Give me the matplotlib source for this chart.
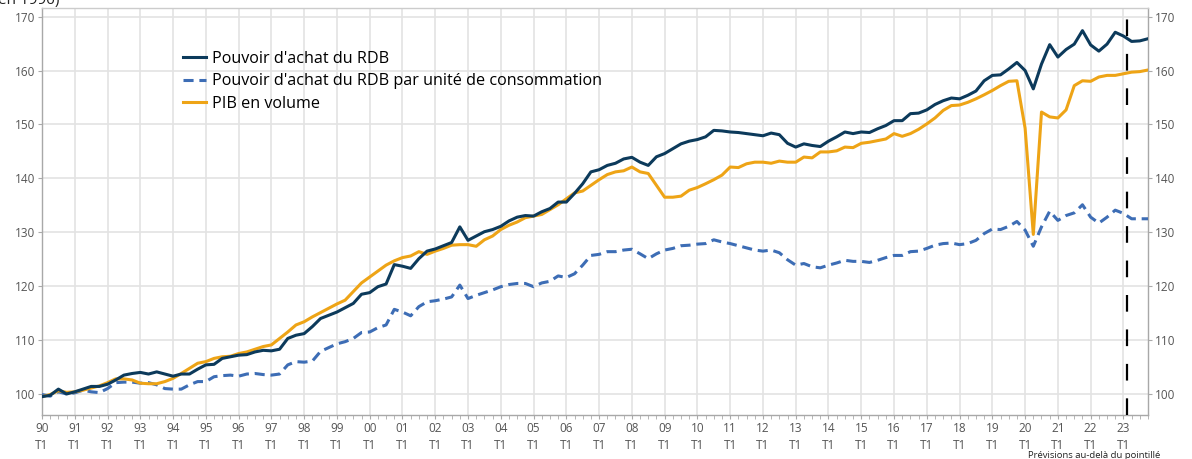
import matplotlib
matplotlib.use("Agg")
import matplotlib.pyplot as plt
import numpy as np

plt.rcParams['font.family'] = ['Open Sans', 'DejaVu Sans']

start_year = 1990
end_year = 2023

rdb = [99.5, 99.75, 100.9, 100.0,
       100.4, 100.9, 101.4, 101.4,
       101.8, 102.6, 103.5, 103.8,
       104.0, 103.7, 104.1, 103.7,
       103.3, 103.7, 103.7, 104.6,
       105.4, 105.5, 106.6, 106.9,
       107.2, 107.3, 107.8, 108.1,
       108.0, 108.3, 110.3, 110.9,
       111.2, 112.5, 114.0, 114.6,
       115.2, 116.0, 116.8, 118.5,
       118.8, 119.9, 120.4, 124.0,
       123.7, 123.3, 125.1, 126.5,
       126.9, 127.5, 128.1, 131.0,
       128.5, 129.3, 130.1, 130.5,
       131.1, 132.1, 132.8, 133.1,
       133.0, 133.8, 134.4, 135.6,
       135.6, 137.2, 139.0, 141.2,
       141.6, 142.4, 142.8, 143.6,
       143.9, 143.0, 142.4, 144.0,
       144.6, 145.5, 146.4, 146.9,
       147.2, 147.7, 148.9, 148.8,
       148.6, 148.5, 148.3, 148.1,
       147.9, 148.4, 148.1, 146.5,
       145.8, 146.4, 146.1, 145.9,
       146.9, 147.7, 148.6, 148.3,
       148.6, 148.5, 149.2, 149.8,
       150.7, 150.7, 152.0, 152.1,
       152.7, 153.7, 154.4, 154.9,
       154.75, 155.4, 156.2, 158.1,
       159.1, 159.2, 160.3, 161.5,
       160.0, 156.6, 161.2, 164.8,
       162.5, 163.9, 164.9, 167.4,
       164.75, 163.6, 164.9, 167.1,
       166.4, 165.4, 165.5, 165.9]

rdb_uc = [99.9, 99.6, 100.4, 100.0,
          100.2, 100.7, 100.4, 100.25,
          101.0, 102.1, 102.2, 102.2,
          102.0, 102.1, 101.7, 101.0,
          100.9, 100.9, 101.7, 102.3,
          102.3, 103.2, 103.4, 103.5,
          103.3, 103.7, 103.8, 103.6,
          103.5, 103.7, 105.4, 106.0,
          105.9, 106.1, 107.9, 108.6,
          109.3, 109.7, 110.3, 111.4,
          111.5, 112.3, 112.8, 115.7,
          115.2, 114.5, 116.2, 117.1,
          117.3, 117.6, 118.0, 120.2,
          117.7, 118.3, 118.8, 119.3,
          119.9, 120.3, 120.5, 120.5,
          119.9, 120.6, 120.9, 121.9,
          121.6, 122.3, 123.9, 125.7,
          125.9, 126.4, 126.4, 126.7,
          126.85, 126.0, 125.1, 126.0,
          126.7, 127.0, 127.5, 127.6,
          127.8, 127.9, 128.6, 128.2,
          127.9, 127.5, 127.1, 126.7,
          126.5, 126.7, 126.2, 124.9,
          123.9, 124.2, 123.6, 123.4,
          123.9, 124.3, 124.8, 124.6,
          124.6, 124.4, 124.8, 125.3,
          125.7, 125.7, 126.4, 126.5,
          127.0, 127.6, 127.9, 128.0,
          127.7, 127.9, 128.5, 129.75,
          130.6, 130.5, 131.1, 132.0,
          130.4, 127.4, 131.0, 133.9,
          132.2, 133.1, 133.6, 135.1,
          132.8, 131.7, 132.8, 134.1,
          133.5, 132.5, 132.5, 132.5]

pib = [99.5, 99.9, 100.6, 100.3,
       100.4, 100.7, 101.1, 101.5,
       102.1, 102.8, 102.8, 102.6,
       102.0, 101.9, 101.9, 102.3,
       102.9, 103.8, 104.75, 105.7,
       106.0, 106.6, 106.9, 107.0,
       107.5, 107.8, 108.3, 108.8,
       109.1, 110.3, 111.5, 112.8,
       113.4, 114.3, 115.1, 115.9,
       116.7, 117.4, 119.0, 120.6,
       121.7, 122.8, 123.9, 124.7,
       125.3, 125.6, 126.4, 125.9,
       126.5, 127.0, 127.6, 127.7,
       127.7, 127.4, 128.6, 129.3,
       130.5, 131.3, 131.9, 132.7,
       133.0, 133.3, 134.2, 135.1,
       136.2, 137.3, 137.65, 138.7,
       139.75, 140.7, 141.2, 141.4,
       142.1, 141.2, 140.9, 138.7,
       136.5, 136.5, 136.7, 137.8,
       138.3, 139.0, 139.75, 140.6,
       142.1, 142.0, 142.7, 143.0,
       143.0, 142.8, 143.2, 143.0,
       143.0, 143.95, 143.8, 144.9,
       144.9, 145.1, 145.8, 145.7,
       146.5, 146.7, 147.0, 147.3,
       148.3, 147.8, 148.3, 149.1,
       150.1, 151.2, 152.6, 153.5,
       153.6, 154.1, 154.75, 155.5,
       156.3, 157.2, 158.0, 158.1,
       149.3, 129.6, 152.3, 151.4,
       151.2, 152.7, 157.2, 158.1,
       158.0, 158.8, 159.1, 159.1,
       159.4, 159.7, 159.8, 160.1]

labels = ["Pouvoir d'achat du RDB",
          "Pouvoir d'achat du RDB par unité de consommation",
          "PIB en volume"]
years = list(range(start_year, end_year + 1))
year_labels = [f"{y % 100:02d}\nT1" for y in years]
yticks = [100, 110, 120, 130, 140, 150, 160, 170]
forecast_start = 2023.1

x = start_year + np.arange(len(rdb)) / 4.0

c_rdb = '#0c3a5b'
c_uc = '#3d6db5'
c_pib = '#eea416'
grid_c = '#e3e3e3'
tick_c = '#555555'

fig = plt.figure(figsize=(11.92, 4.59), dpi=100)
ax = fig.add_axes([42/1192, 1 - 415/459, (1148 - 42)/1192, (415 - 8)/459])

ax.plot(x, rdb, color=c_rdb, lw=2.2, label=labels[0], zorder=4)
ax.plot(x, rdb_uc, color=c_uc, lw=2.2, dashes=(3.3, 1.9), label=labels[1], zorder=3)
ax.plot(x, pib, color=c_pib, lw=2.2, label=labels[2], zorder=3)
ax.axvline(forecast_start, color='black', lw=1.6, dashes=(7.5, 8), zorder=5)

ax.set_xlim(start_year, 2023.75)
ax.set_ylim(96.1, 171.6)
ax.set_xticks(years)
ax.set_xticklabels(year_labels, fontsize=8.5, color=tick_c, linespacing=1.45)
ax.set_xticks(x, minor=True)
ax.set_yticks(yticks)
ax.set_yticklabels([str(v) for v in yticks], fontsize=8.5, color=tick_c)
ax.tick_params(axis='x', which='both', length=3, color='#aaaaaa', pad=2)
ax.tick_params(axis='y', which='both', length=3, color='#aaaaaa', pad=2,
               right=True, labelright=True)
ax.grid(True, which='major', color=grid_c, lw=1.2, zorder=0)
ax.set_axisbelow(True)
for s in ['left', 'bottom', 'right']:
    ax.spines[s].set_color('#a8a8a8')
    ax.spines[s].set_linewidth(1.0)
ax.spines['top'].set_color('#cccccc')
ax.spines['top'].set_linewidth(1.0)

leg = ax.legend(loc='upper left', bbox_to_anchor=(183/1192, 1 - 51/459),
                bbox_transform=fig.transFigure, frameon=False, fontsize=11.6,
                handlelength=1.42, handletextpad=0.38, labelspacing=0.4,
                borderpad=0, borderaxespad=0)

fig.text(-0.002, 1 - 4/459, "en 1990)", fontsize=11, color='#222222',
         ha='left', va='baseline')
fig.text(1028/1192, 1 - 451/459, "Prévisions au-delà du pointillé", fontsize=6.8,
         color='#222222', ha='left', va='top')

fig.savefig("out.png", dpi=100)
